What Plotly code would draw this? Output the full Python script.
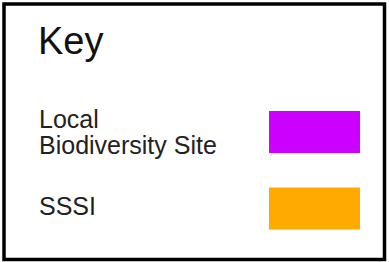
import plotly.graph_objects as go

W, H = 389, 262
title = "Key"
categories = ["Local<br>Biodiversity Site", "SSSI"]
colors = ["#CC00FF", "#FFAA00"]

# layout (pixel coordinates)
row_text_y = [132, 205.5]
line_gap = 26
row_swatch_y = [132, 208.5]
swatch_x0, swatch_x1, swatch_h = 269, 360, 42

fig = go.Figure()
fig.add_trace(go.Scatter(x=[0], y=[0], mode="markers", marker=dict(opacity=0), hoverinfo="skip", showlegend=False))

shapes = [dict(type="rect", xref="x", yref="y", x0=4, x1=384.5, y0=4, y1=259.5,
               line=dict(color="black", width=3.5), fillcolor="rgba(0,0,0,0)")]
annotations = [dict(x=36, y=41, xref="x", yref="y", text=title, showarrow=False,
                    xanchor="left", yanchor="middle",
                    font=dict(family="Liberation Sans, Arial", size=38, color="#111111"))]
for i, (cat, col) in enumerate(zip(categories, colors)):
    cy = row_swatch_y[i]
    shapes.append(dict(type="rect", xref="x", yref="y", x0=swatch_x0, x1=swatch_x1,
                       y0=cy - swatch_h / 2, y1=cy + swatch_h / 2,
                       line=dict(width=0), fillcolor=col))
    lines = cat.split("<br>")
    n = len(lines)
    for j, ln in enumerate(lines):
        y = row_text_y[i] + (j - (n - 1) / 2) * line_gap
        annotations.append(dict(x=37, y=y, xref="x", yref="y", text=ln, showarrow=False,
                                xanchor="left", yanchor="middle", align="left",
                                font=dict(family="Liberation Sans, Arial", size=25, color="#222222")))

fig.update_layout(
    width=W, height=H, margin=dict(l=0, r=0, t=0, b=0),
    paper_bgcolor="white", plot_bgcolor="white",
    xaxis=dict(range=[0, W], visible=False, fixedrange=True),
    yaxis=dict(range=[H, 0], visible=False, fixedrange=True),
    shapes=shapes, annotations=annotations, showlegend=False,
)
fig.write_html("out.html", config={"displayModeBar": False},
               post_script="document.body.style.margin='0';document.body.style.overflow='hidden';")
